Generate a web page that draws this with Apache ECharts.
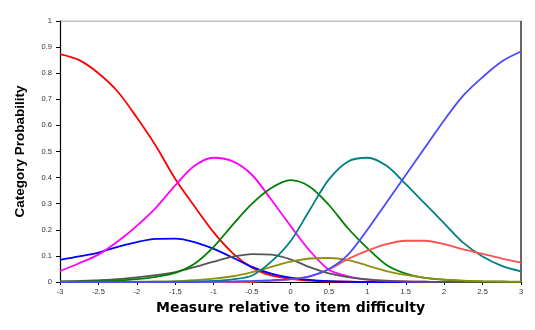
<!DOCTYPE html>
<html>
<head>
<meta charset="utf-8">
<script src="https://cdn.jsdelivr.net/npm/echarts@6/dist/echarts.min.js"></script>
<style>
  html, body { margin: 0; padding: 0; background: #fff; }
  #chart { width: 535px; height: 330px; }
</style>
</head>
<body>
<div id="chart"></div>
<script>
// Measure (logits relative to item difficulty)
const measures = [-3, -2.75, -2.5, -2.25, -2, -1.75, -1.5, -1.25, -1, -0.75, -0.5, -0.25,
                  0, 0.25, 0.5, 0.75, 1, 1.25, 1.5, 1.75, 2, 2.25, 2.5, 2.75, 3];

// Category probability curves, one per response category
const cat0 = [0.873, 0.85, 0.80, 0.73, 0.63, 0.52, 0.395, 0.29, 0.19, 0.11, 0.055, 0.025,
              0.012, 0.005, 0.002, 0.001, 0, 0, 0, 0, 0, 0, 0, 0, 0];
const cat1 = [0.085, 0.098, 0.113, 0.135, 0.153, 0.165, 0.166, 0.153, 0.127, 0.093, 0.058, 0.032,
              0.017, 0.008, 0.003, 0.001, 0, 0, 0, 0, 0, 0, 0, 0, 0];
const cat2 = [0.042, 0.072, 0.105, 0.155, 0.215, 0.285, 0.37, 0.445, 0.476, 0.462, 0.41, 0.315,
              0.215, 0.12, 0.047, 0.022, 0.009, 0.004, 0.002, 0.001, 0, 0, 0, 0, 0];
const cat3 = [0.002, 0.004, 0.007, 0.011, 0.018, 0.026, 0.038, 0.057, 0.078, 0.097, 0.107, 0.105,
              0.087, 0.057, 0.033, 0.019, 0.01, 0.005, 0.002, 0.001, 0, 0, 0, 0, 0];
const cat4 = [0.001, 0.002, 0.003, 0.006, 0.011, 0.02, 0.035, 0.07, 0.135, 0.22, 0.30, 0.36,
              0.39, 0.365, 0.295, 0.205, 0.13, 0.065, 0.032, 0.016, 0.009, 0.004, 0.002, 0.001, 0];
const cat5 = [0, 0, 0, 0, 0.001, 0.002, 0.003, 0.007, 0.013, 0.022, 0.038, 0.058,
              0.078, 0.09, 0.092, 0.084, 0.063, 0.042, 0.027, 0.016, 0.009, 0.005, 0.003, 0.002, 0.001];
const cat6 = [0, 0, 0, 0, 0, 0, 0.001, 0.002, 0.004, 0.01, 0.025, 0.078,
              0.156, 0.276, 0.393, 0.462, 0.476, 0.445, 0.375, 0.30, 0.225, 0.15, 0.098, 0.062, 0.041];
const cat7 = [0, 0, 0, 0, 0, 0, 0, 0, 0, 0, 0.001, 0.004,
              0.01, 0.022, 0.048, 0.088, 0.12, 0.145, 0.158, 0.158, 0.145, 0.125, 0.108, 0.09, 0.075];
const cat8 = [0, 0, 0, 0, 0, 0, 0, 0, 0.001, 0.002, 0.004, 0.007,
              0.011, 0.022, 0.05, 0.105, 0.20, 0.305, 0.41, 0.515, 0.62, 0.715, 0.785, 0.845, 0.883];

const categories = [cat0, cat1, cat2, cat3, cat4, cat5, cat6, cat7, cat8];
const lineColors = ['#ff0000', '#0000ff', '#ff00ff', '#555555', '#008000',
                    '#8f8f10', '#008080', '#ff5050', '#4a4aff'];

const xTitle = 'Measure relative to item difficulty';
const yTitle = 'Category Probability';

const chart = echarts.init(document.getElementById('chart'));

const series = categories.map((vals, i) => ({
  type: 'line',
  name: 'cat' + i,
  data: measures.map((m, j) => [m, vals[j]]),
  smooth: 0.3,
  showSymbol: false,
  symbol: 'none',
  silent: true,
  lineStyle: { color: lineColors[i], width: 1.8 },
  z: 2 + i
}));

// frame: grey top edge, black right edge
series.push({
  type: 'line',
  data: [[-3, 1], [3, 1]],
  showSymbol: false, symbol: 'none', silent: true,
  lineStyle: { color: '#808080', width: 1 }, z: 1
});
series.push({
  type: 'line',
  data: [[3, 0], [3, 1]],
  showSymbol: false, symbol: 'none', silent: true,
  lineStyle: { color: '#000', width: 1.2 }, z: 1
});

chart.setOption({
  animation: false,
  backgroundColor: '#ffffff',
  grid: { left: 60, right: 14, top: 21, bottom: 48 },
  xAxis: {
    type: 'value',
    min: -3, max: 3, interval: 0.5,
    name: xTitle,
    nameLocation: 'middle',
    nameGap: 17,
    nameTextStyle: { fontFamily: 'DejaVu Sans, Verdana, sans-serif', fontWeight: 'bold', fontSize: 14, color: '#000' },
    axisLine: { onZero: false, lineStyle: { color: '#000', width: 1.2 } },
    axisTick: { length: 3, lineStyle: { color: '#000' } },
    splitLine: { show: false },
    axisLabel: { fontFamily: 'Liberation Sans, Arial, sans-serif', fontSize: 7.5, color: '#333', margin: 6 }
  },
  yAxis: {
    type: 'value',
    min: 0, max: 1, interval: 0.1,
    name: yTitle,
    nameLocation: 'middle',
    nameGap: 33,
    nameRotate: 90,
    nameTextStyle: { fontFamily: 'Liberation Sans, Arial, sans-serif', fontWeight: 'bold', fontSize: 13.5, color: '#000' },
    axisLine: { show: true, onZero: false, lineStyle: { color: '#000', width: 1.2 } },
    axisTick: { show: true, length: 4, lineStyle: { color: '#000' } },
    splitLine: { show: false },
    axisLabel: { fontFamily: 'Liberation Sans, Arial, sans-serif', fontSize: 7.5, color: '#333', margin: 8 }
  },
  series: series
});
</script>
</body>
</html>
